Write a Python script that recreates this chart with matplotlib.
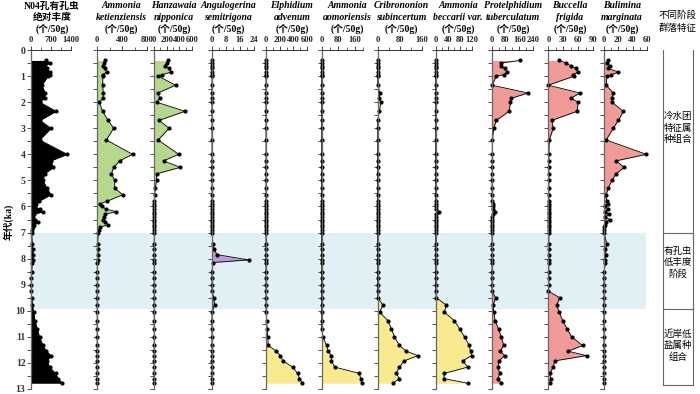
import matplotlib.pyplot as plt
from matplotlib.ticker import MultipleLocator, FixedLocator

SERIF_CJK = ['Liberation Serif', 'Noto Sans CJK SC']
plt.rcParams['font.family'] = SERIF_CJK

# sample ages (ka)
depth = [0.4, 0.5, 0.6, 0.7, 0.85, 0.95, 1.0, 1.35, 1.65, 1.85, 2.0, 2.35, 2.7, 3.0, 3.45,
         4.0, 4.25, 4.5, 4.75, 5.0, 5.3, 5.55, 5.8, 5.9, 6.0, 6.1, 6.2, 6.3, 6.4, 6.5,
         6.6, 6.7, 6.8, 6.9, 7.0,
         7.45, 7.65, 7.85, 8.05, 8.15, 8.5, 8.75, 9.0,
         9.25, 9.5, 9.78, 10.05, 10.38, 10.7, 11.0, 11.33, 11.55, 11.72, 11.92, 12.16, 12.4, 12.6, 12.78]

n04_total = [520, 680, 480, 560, 650, 670, 600, 380, 500, 480, 310, 880, 320, 700, 310,
             1270, 700, 780, 480, 420, 560, 700, 280, 190, 150, 300, 420, 100, 80, 150,
             250, 120, 60, 50, 20,
             40, 60, 80, 60, 40, 20, 15, 10,
             10, 20, 50, 90, 140, 220, 300, 420, 540, 705, 563, 650, 860, 950, 1100]
ketienziensis = [126, 115, 100, 125, 152, 89, 95, 90, 100, 100, 37, 90, 178, 267, 150,
                 570, 361, 267, 230, 283, 283, 413, 160, 47, 73, 150, 309, 126, 110, 100,
                 130, 178, 47, 30, 21,
                 10, 15, 20, 8, 5, 5, 5, 5,
                 4, 4, 3, 3, 3, 3, 3, 3, 3, 3, 3, 3, 3, 3, 3]
nipponica = [215, 200, 180, 240, 265, 130, 65, 340, 60, 90, 40, 490, 80, 240, 65,
             390, 150, 415, 40, 40, 20, 10, 5, 5, 5, 5, 5, 5, 5, 5,
             5, 5, 5, 5, 5,
             3, 3, 3, 3, 3, 3, 3, 3,
             3, 3, 3, 3, 3, 3, 3, 3, 3, 3, 3, 3, 3, 3, 3]
semitrigona = [0] * 35 + [0.5, 1, 3, 21, 0.5, 0, 0, 0] + \
              [0, 1, 1.5, 0, 0, 0, 0, 0, 0, 0, 0, 0, 0, 0, 0]
advenum = [0] * 35 + [0] * 8 + \
          [0, 0, 0, 0, 10, 15, 25, 33, 150, 210, 248, 390, 462, 490, 533]
aomoriensis = [0] * 35 + [0] * 8 + \
              [0, 0, 0, 0, 0, 0, 5, 24, 30, 47, 47, 63, 180, 188, 193]
subincertum = [0, 0, 0, 0, 0, 0, 0, 0, 8, 5, 12, 6, 0, 0, 0] + [0] * 20 + [0] * 8 + \
              [0, 0.5, 19, 7, 37, 50, 61, 79, 104, 146, 97, 79, 67, 79, 55]
beccarii = [0] * 26 + [11] + [0] * 8 + [0] * 8 + \
           [0, 2, 35, 29, 62, 80, 96, 112, 116, 120, 90, 107, 29, 27, 107]
tuberculatum = [163, 56, 56, 75, 89, 70, 27, 2, 211, 114, 109, 101, 27, 12, 4,
                3, 3, 3, 3, 2, 2, 2, 3, 5, 5, 10, 20, 5, 3, 3,
                3, 2, 2, 2, 2,
                2, 3, 2, 2, 2, 2, 2, 2,
                2, 23, 8, 12, 20, 40, 56, 70, 50, 75, 43, 37, 46, 37, 56]
frigida = [22, 36, 45, 55, 60, 49, 52, 0, 64, 45, 60, 58, 7, 10, 2] + [1] * 20 + [1] * 8 + \
          [0, 23, 17, 22, 29, 38, 47, 69, 40, 77, 13, 10, 3, 5, 3]
marginata = [6, 4, 8, 6, 20, 10, 4, 3, 13, 11, 11, 27, 20, 13, 3,
             59, 17, 28, 17, 11, 6, 3, 4, 5, 1, 6, 2, 7, 2, 8,
             3, 1, 0, 0, 0,
             4, 2, 3, 1, 2, 0, 0, 0] + [0] * 15

GREEN, YELLOW, PINK, PURPLE = '#b5d88e', '#f9ea8f', '#f09b98', '#bd9bd4'

# (title lines, values, colour, left px, right px, xmax, major ticks, minor step, header centre px)
panels = [
    (['N04孔有孔虫', '绝对丰度'], n04_total, 'black', 31, 71, 1400, [0, 700, 1400], 350, 52),
    (['Ammonia', 'ketienziensis'], ketienziensis, GREEN, 97, 147, 800, [0, 400, 800], 200, 121),
    (['Hanzawaia', 'nipponica'], nipponica, GREEN, 154, 192, 600, [0, 200, 400, 600], 100, 174),
    (['Angulogerina', 'semitrigona'], semitrigona, PURPLE, 212, 254, 24, [0, 8, 16, 24], 4, 228),
    (['Elphidium', 'advenum'], advenum, YELLOW, 266, 307, 600, [0, 200, 400, 600], 100, 292),
    (['Ammonia', 'aomoriensis'], aomoriensis, YELLOW, 321.7, 363.3, 200, [0, 80, 160], 40, 347),
    (['Cribrononion', 'subincertum'], subincertum, YELLOW, 377.7, 421.7, 160, [0, 80, 160], 40, 401),
    (['Ammonia', 'beccarii var.'], beccarii, YELLOW, 435.7, 471.7, 120, [0, 40, 80, 120], 20, 458),
    (['Protelphidium', 'tuberculatum'], tuberculatum, PINK, 491.7, 533, 240, [0, 80, 160, 240], 40, 513),
    (['Buccella', 'frigida'], frigida, PINK, 548.3, 593, 90, [0, 30, 60, 90], 15, 570),
    (['Bulimina', 'marginata'], marginata, PINK, 604, 647, 60, [0, 20, 40, 60], 10, 622),
]

W, H = 700, 394
Y0, Y13 = 50, 389
fig = plt.figure(figsize=(7, 3.94), dpi=100)

# background: low-abundance band and the stage boxes
bg = fig.add_axes([0, 1 - Y13 / H, 1, (Y13 - Y0) / H], zorder=-1)
bg.set_xlim(0, W)
bg.set_ylim(13, 0)
bg.axis('off')
bg.fill_between([30, 646], 7.0, 9.93, color='#e1f0f4', lw=0)
for y in [-0.12, 7.0, 9.93, 12.85]:
    bg.plot([663, 693], [y, y], color='#666666', lw=0.8)
for x in [663, 693]:
    bg.plot([x, x], [-0.12, 12.85], color='#666666', lw=0.8)
stage_text = [('冷水团\n特征属\n种组合', 3.0), ('有孔虫\n低丰度\n阶段', 8.15), ('近岸低\n盐属种\n组合', 11.35)]
for txt, yy in stage_text:
    bg.text(678, yy, txt, ha='center', va='center', fontsize=6.8,
            family=['Noto Sans CJK SC'], linespacing=1.3)


def fx(x):
    return x / W


def fy(y):
    return 1 - y / H


for i, (title, vals, col, L, R, xmax, majors, minor, cx) in enumerate(panels):
    ax = fig.add_axes([fx(L), fy(Y13), (R - L) / W, (Y13 - Y0) / H])
    ax.set_facecolor('none')
    ax.set_xlim(0, xmax)
    ax.set_ylim(13, 0)
    ax.fill_betweenx(depth, 0, vals, color=col, lw=0)
    ax.plot(vals, depth, color='black', lw=0.6, marker='o', ms=2.0, clip_on=False)
    for s in ['right', 'bottom']:
        ax.spines[s].set_visible(False)
    ax.spines['left'].set_color('#666666')
    ax.spines['top'].set_color('#333333')
    ax.spines['left'].set_linewidth(0.9)
    ax.spines['top'].set_linewidth(0.7)
    ax.xaxis.tick_top()
    ax.xaxis.set_major_locator(FixedLocator(majors))
    ax.xaxis.set_minor_locator(MultipleLocator(minor))
    ax.tick_params(axis='x', which='major', direction='out', length=3, width=0.6,
                   pad=1, labelsize=6.1, colors='#222222')
    ax.tick_params(axis='x', which='minor', direction='out', length=2, width=0.5, colors='#333333')
    ax.yaxis.set_major_locator(MultipleLocator(1))
    ax.yaxis.set_minor_locator(MultipleLocator(0.5))
    ax.tick_params(axis='y', which='both', direction='out', length=3, width=0.6, colors='#333333')
    for lab in ax.get_xticklabels():
        lab.set_fontweight('bold')
    if i == 0:
        ax.set_yticks(range(14))
        ax.tick_params(axis='y', labelsize=7, pad=1)
        for lab in ax.get_yticklabels():
            lab.set_fontweight('bold')
    else:
        ax.set_yticklabels([])

    style = 'normal' if i == 0 else 'italic'
    fig.text(fx(cx), fy(6), title[0], ha='center', va='center', fontsize=7,
             fontweight='bold', fontstyle=style, family=SERIF_CJK)
    fig.text(fx(cx), fy(17.5), title[1], ha='center', va='center', fontsize=7,
             fontweight='bold', fontstyle=style, family=SERIF_CJK)
    fig.text(fx(cx), fy(29), '(个/50g)', ha='center', va='center', fontsize=7,
             fontweight='bold', family=SERIF_CJK)

fig.text(fx(678), fy(15), '不同阶段', ha='center', va='center', fontsize=6.8, family=['Noto Sans CJK SC'])
fig.text(fx(678), fy(28), '群落特征', ha='center', va='center', fontsize=6.8, family=['Noto Sans CJK SC'])
fig.text(fx(8), fy(222), '年代(ka)', rotation=90, ha='center', va='center', fontsize=7,
         fontweight='bold', family=SERIF_CJK)

fig.savefig('out.png', dpi=100)
